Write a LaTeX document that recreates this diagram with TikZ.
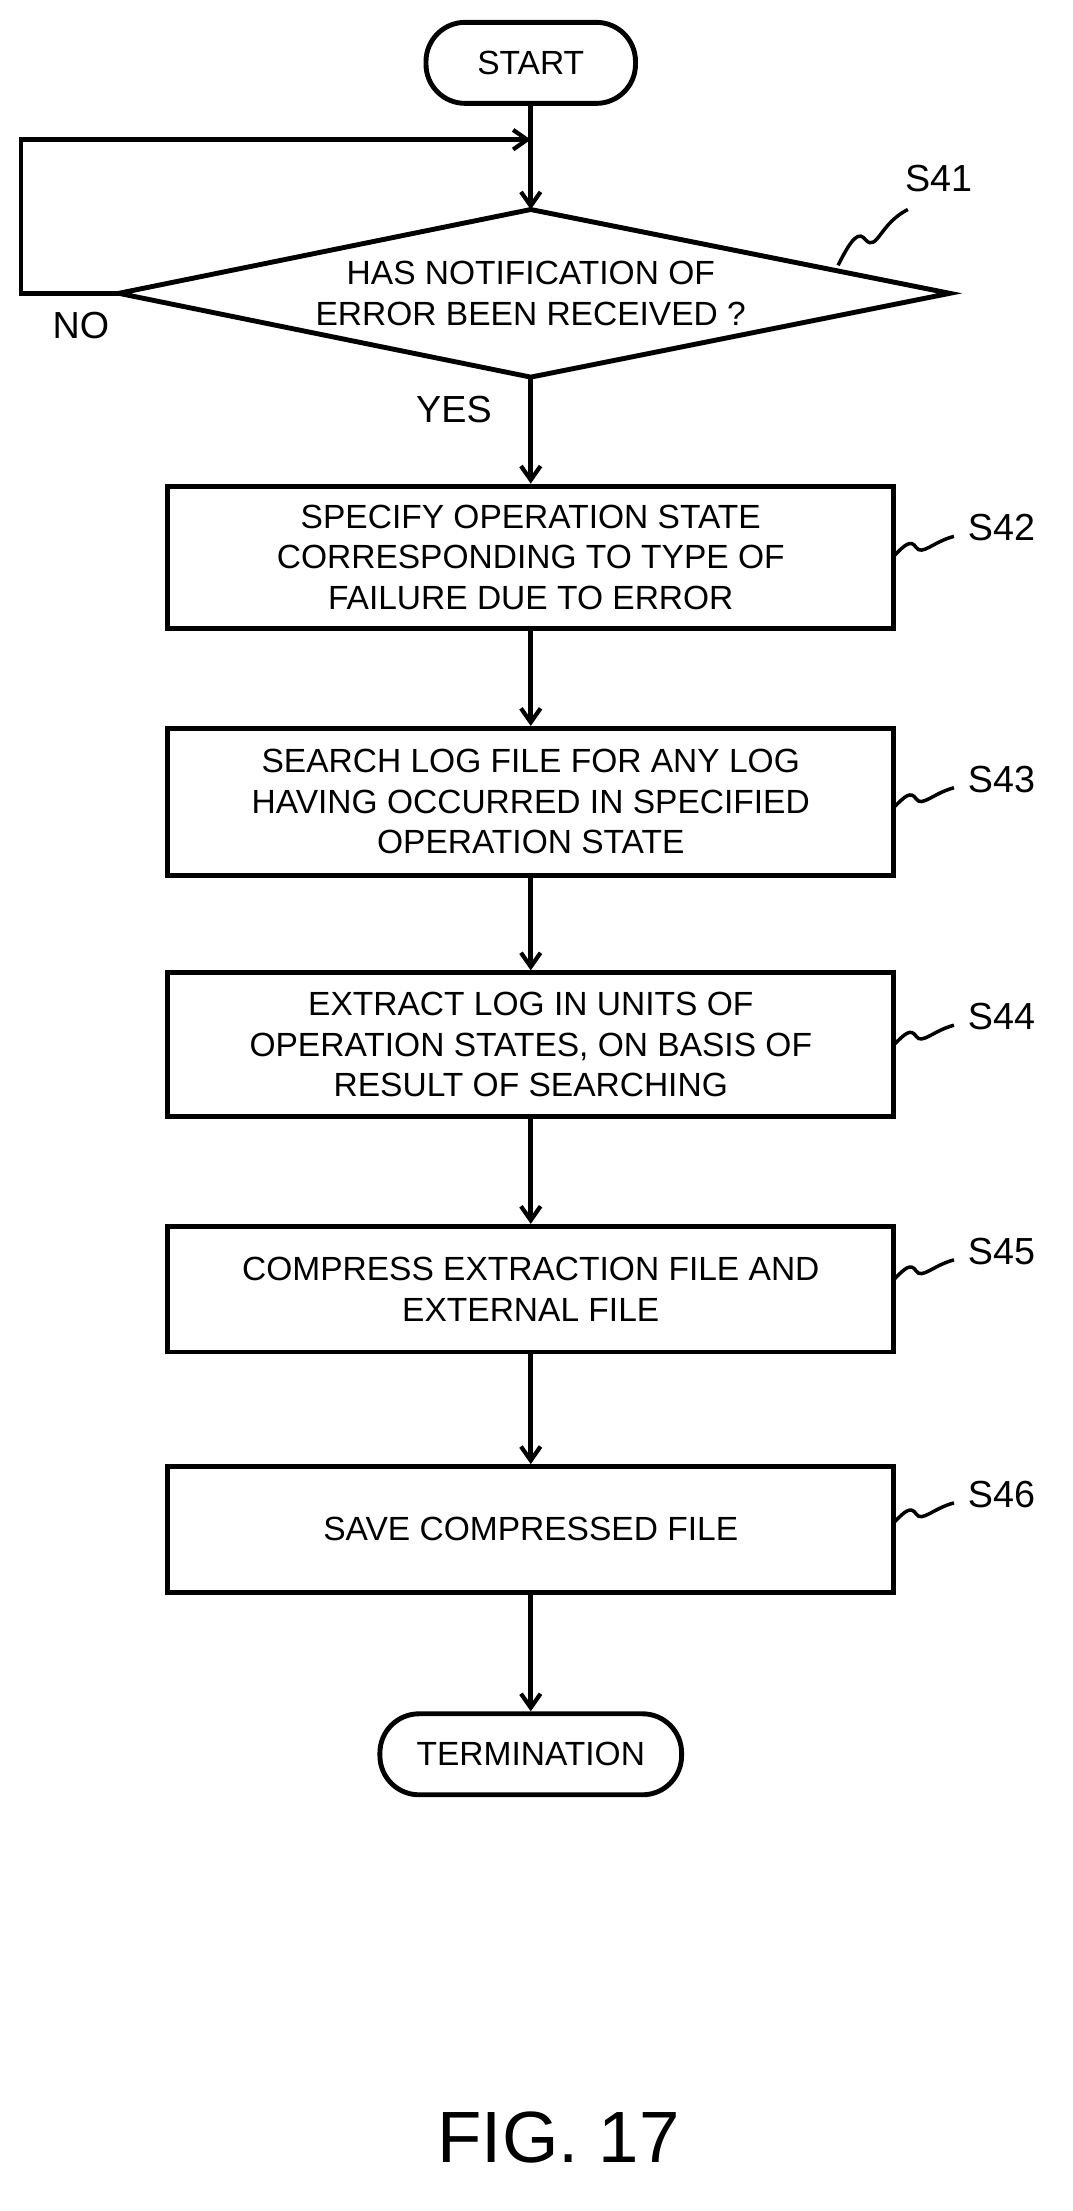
\documentclass[tikz,border=0pt]{standalone}
\usepackage{fontspec}
\setmainfont{Liberation Sans}
\usetikzlibrary{arrows.meta}
\begin{document}
\begin{tikzpicture}[x=1pt,y=-1pt,line width=3.5pt,
  every node/.style={font=\fontsize{24}{29}\selectfont},
  box/.style={draw,minimum width=520pt,align=center,inner sep=0pt},
  term/.style={draw,rounded corners=28pt,minimum height=58pt,inner sep=0pt},
  arr/.style={-{Straight Barb[length=10pt,width=14pt,line width=3pt]}},
  lab/.style={font=\fontsize{27}{30}\selectfont}]
\useasboundingbox (0,0) rectangle (768,1583);
\node[term,minimum width=150pt] (start) at (380,45) {START};
\coordinate (dt) at (380,150);
\coordinate (db) at (380,270);
\coordinate (dl) at (85,210);
\coordinate (dr) at (680,210);
\draw (dt) -- (dr) -- (db) -- (dl) -- cycle;
\node[align=center] (d) at (380,210) {HAS NOTIFICATION OF\\ERROR BEEN RECEIVED ?};
\coordinate (lc) at (15,210);
\coordinate (lt) at (15,100);
\coordinate (lj) at (380,100);
\draw[arr] (dl) -- (lc) -- (lt) -- (lj);
\draw[arr] (start) -- (dt);
\node[lab] (no) at (58,233) {NO};
\node[lab] (yes) at (325,293) {YES};
\node[lab] (s41) at (672,128) {S41};
\draw[line width=2.5pt] (600,190) .. controls (610,170) and (615,165) .. (620,172) .. controls (628,180) and (630,160) .. (650,150);
\node[box,minimum height=102pt] (s42) at (380,399) {SPECIFY OPERATION STATE\\CORRESPONDING TO TYPE OF\\FAILURE DUE TO ERROR};
\node[box,minimum height=105pt] (s43) at (380,574) {SEARCH LOG FILE FOR ANY LOG\\HAVING OCCURRED IN SPECIFIED\\OPERATION STATE};
\node[box,minimum height=103pt] (s44) at (380,748) {EXTRACT LOG IN UNITS OF\\OPERATION STATES, ON BASIS OF\\RESULT OF SEARCHING};
\node[box,minimum height=90pt] (s45) at (380,923) {COMPRESS EXTRACTION FILE AND\\EXTERNAL FILE};
\node[box,minimum height=90pt] (s46) at (380,1095) {SAVE COMPRESSED FILE};
\node[term,minimum width=216pt] (end) at (380,1256) {TERMINATION};
\draw[arr] (db) -- (s42);
\draw[arr] (s42) -- (s43);
\draw[arr] (s43) -- (s44);
\draw[arr] (s44) -- (s45);
\draw[arr] (s45) -- (s46);
\draw[arr] (s46) -- (end);
\foreach \n/\y in {42/378,43/558,44/728,45/896,46/1070}{
  \node[lab] (l\n) at (717,\y) {S\n};
  \draw[line width=2.5pt] (640,\y+20) .. controls (648,\y+12) and (652,\y+8) .. (656,\y+14) .. controls (660,\y+20) and (668,\y+10) .. (683,\y+6);
}
\node[font=\fontsize{52}{56}\selectfont] (fig) at (400,1530) {FIG. 17};
\end{tikzpicture}
\end{document}
